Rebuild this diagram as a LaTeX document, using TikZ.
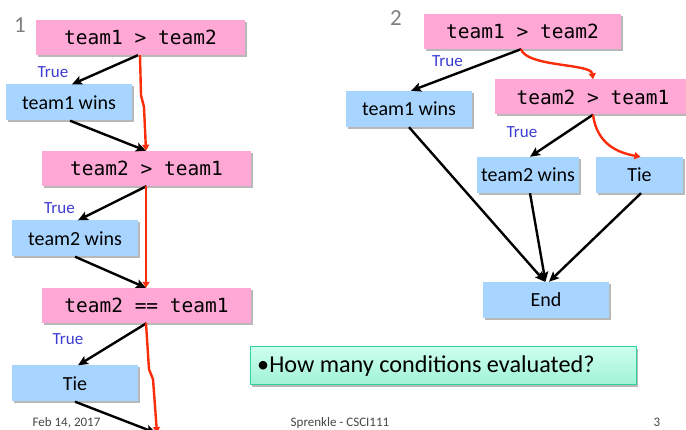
\documentclass[tikz,border=0pt]{standalone}
\usepackage{fontspec}
\setmainfont{Carlito}
\newfontfamily\codefont{DejaVu Sans Mono}
\usetikzlibrary{arrows.meta,shadows,calc}
\definecolor{pinkc}{RGB}{255,168,214}
\definecolor{bluec}{RGB}{168,213,255}
\definecolor{truec}{RGB}{60,60,210}
\definecolor{redc}{RGB}{250,45,10}
\definecolor{greytxt}{RGB}{128,128,128}
\definecolor{foottxt}{RGB}{70,70,70}
\definecolor{mintA}{RGB}{205,255,238}
\definecolor{mintB}{RGB}{160,242,215}
\definecolor{mintborder}{RGB}{45,210,160}
\begin{document}
\begin{tikzpicture}[x=1pt,y=-1pt,
  boxshadow/.style={drop shadow={shadow xshift=2pt,shadow yshift=-2pt,fill=black,opacity=0.28}},
  cond/.style={fill=pinkc,inner sep=0pt,minimum height=35,boxshadow,
    font=\codefont\fontsize{19.5}{22}\selectfont},
  act/.style={fill=bluec,inner sep=0pt,minimum height=36,boxshadow,
    font=\fontsize{20}{22}\selectfont},
  truelbl/.style={text=truec,inner sep=0pt,font=\fontsize{17}{18}\selectfont},
  numlbl/.style={text=greytxt,inner sep=0pt,font=\fontsize{23}{24}\selectfont},
  foot/.style={text=foottxt,inner sep=0pt,anchor=base,font=\fontsize{13}{14}\selectfont},
  blk/.style={line width=2.4pt,-{Stealth[length=10pt,width=9pt,inset=2pt]}},
  redarrow/.style={draw=redc,line width=2.4pt,-{Triangle[length=6pt,width=7pt]}}
]
\useasboundingbox (0,0) rectangle (686,430);

% ---------- left flowchart ----------
\node[numlbl] (n1) at (20,25) {1};
\node[cond,minimum width=209] (c1) at (140.5,37.5) {team1 > team2};
\node[act,minimum width=126] (w1) at (69,102.5) {team1 wins};
\node[cond,minimum width=209] (c2) at (146.5,168.5) {team2 > team1};
\node[act,minimum width=126] (w2) at (75,238.5) {team2 wins};
\node[cond,minimum width=209] (c3) at (146.5,305.5) {team2 == team1};
\node[act,minimum width=126] (t3) at (75,383.5) {Tie};
\node[truelbl] (tl1) at (53,72) {True};
\node[truelbl] (tl2) at (59.5,208.5) {True};
\node[truelbl] (tl3) at (68,339.5) {True};
\coordinate (e1) at (156,433);
\coordinate (e2) at (157,433);

\draw[blk] ([xshift=-2.5]c1.south) -- ([xshift=3]w1.north);
\draw[blk] ([xshift=1]w1.south) -- ([xshift=-0.5]c2.north);
\draw[blk] (c2.south) -- ([xshift=3]w2.north);
\draw[blk] (w2.south) -- ([xshift=-0.5]c3.north);
\draw[blk] (c3.south) -- ([xshift=3]t3.north);
\draw[blk] (t3.south) -- (e1);

\draw[redarrow] ([xshift=-0.5]c1.south) -- ++(1,40) -- ++(3,12) -- ([xshift=-0.5]c2.north);
\draw[redarrow] ([xshift=-0.5]c2.south) -- ([xshift=-0.5]c3.north);
\draw[redarrow] ([xshift=-0.5]c3.south) -- ++(3,46) -- ++(4,10) -- (e2);

% ---------- right flowchart ----------
\node[numlbl] (n2) at (396,18.5) {2};
\node[cond,minimum width=197] (ca) at (522.5,31.5) {team1 > team2};
\node[act,minimum width=126] (r1) at (409,109) {team1 wins};
\node[cond,minimum width=196] (cb) at (593,97) {team2 > team1};
\node[act,minimum width=102] (r2) at (528,175) {team2 wins};
\node[act,minimum width=87] (rt) at (639.5,175) {Tie};
\node[act,minimum width=126] (en) at (546,300) {End};
\node[truelbl] (tr1) at (447.5,61) {True};
\node[truelbl] (tr2) at (522,132.5) {True};

\draw[blk] ([xshift=-1.5]ca.south) -- ([xshift=2]r1.north);
\draw[redarrow] ([xshift=-1.5]ca.south) .. controls +(6,18) and +(-2,-16) .. (cb.north);
\draw[blk] (cb.south) -- ([xshift=2]r2.north);
\draw[redarrow] (cb.south) .. controls +(4,30) and +(-22,-4) .. ([xshift=1]rt.north);
\draw[blk] (r1.south) -- ([xshift=-1]en.north);
\draw[blk] ([xshift=2]r2.south) -- ([xshift=-0.5]en.north);
\draw[blk] ([xshift=1.5]rt.south) -- ([xshift=3]en.north);

% ---------- question box ----------
\node[draw=mintborder,line width=1pt,top color=mintA,bottom color=mintB,
  minimum width=386,minimum height=38,inner sep=0pt,boxshadow] (q) at (443,366) {};
\node[anchor=west,inner sep=0pt,font=\fontsize{24.2}{26}\selectfont] (qt) at (257,366) {\textbullet How many conditions evaluated?};

% ---------- footer ----------
\node[foot] (f1) at (66.5,426.5) {Feb 14, 2017};
\node[foot] (f2) at (340,426.5) {Sprenkle - CSCI111};
\node[foot] (f3) at (657,426.5) {3};
\end{tikzpicture}
\end{document}
